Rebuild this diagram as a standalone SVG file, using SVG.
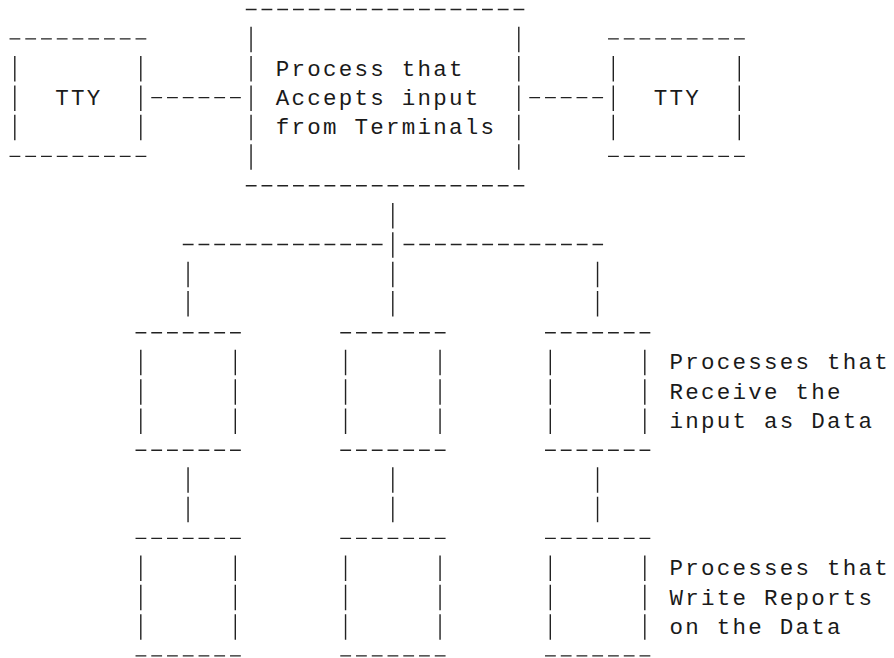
<svg xmlns="http://www.w3.org/2000/svg" width="894" height="658" viewBox="0 0 894 658">
  <style>
    .ln { stroke: #222; stroke-width: 1.4; fill: none; }
    .h { stroke-dasharray: 10.8 4.95; }
    .v { stroke-dasharray: 25.5 3.88; }
    .t { font-family: "Liberation Mono", "DejaVu Sans Mono", monospace; font-size: 22.5px; letter-spacing: 2.25px; fill: #1a1a1a; }
  </style>
  <rect width="894" height="658" fill="#fff"/>

  <!-- Terminal on the left -->
  <g id="tty-left">
    <line class="ln h" x1="9.525" y1="38.88" x2="146.325" y2="38.88"/>
    <line class="ln h" x1="9.525" y1="156.4" x2="146.325" y2="156.4"/>
    <line class="ln v" x1="14.8" y1="56.01" x2="14.8" y2="140.27"/>
    <line class="ln v" x1="140.8" y1="56.01" x2="140.8" y2="140.27"/>
    <text class="t" x="55.3" y="105">TTY</text>
  </g>

  <!-- Input process -->
  <g id="proc-input">
    <line class="ln h" x1="245.775" y1="9.5" x2="524.325" y2="9.5"/>
    <line class="ln h" x1="245.775" y1="185.78" x2="524.325" y2="185.78"/>
    <line class="ln v" x1="251.05" y1="26.63" x2="251.05" y2="169.65"/>
    <line class="ln v" x1="518.8" y1="26.63" x2="518.8" y2="169.65"/>
    <text class="t" x="275.8" y="75.6">Process that</text>
    <text class="t" x="275.8" y="105">Accepts input</text>
    <text class="t" x="275.8" y="134.4">from Terminals</text>
  </g>

  <!-- Terminal on the right -->
  <g id="tty-right">
    <line class="ln h" x1="608.025" y1="38.88" x2="744.825" y2="38.88"/>
    <line class="ln h" x1="608.025" y1="156.4" x2="744.825" y2="156.4"/>
    <line class="ln v" x1="613.3" y1="56.01" x2="613.3" y2="140.27"/>
    <line class="ln v" x1="739.3" y1="56.01" x2="739.3" y2="140.27"/>
    <text class="t" x="653.8" y="105">TTY</text>
  </g>

  <!-- Receiving processes -->
  <g id="recv-1">
    <line class="ln h" x1="135.525" y1="332.68" x2="240.825" y2="332.68"/>
    <line class="ln h" x1="135.525" y1="450.2" x2="240.825" y2="450.2"/>
    <line class="ln v" x1="140.8" y1="349.81" x2="140.8" y2="434.07"/>
    <line class="ln v" x1="235.3" y1="349.81" x2="235.3" y2="434.07"/>
  </g>
  <g id="recv-2">
    <line class="ln h" x1="340.275" y1="332.68" x2="445.575" y2="332.68"/>
    <line class="ln h" x1="340.275" y1="450.2" x2="445.575" y2="450.2"/>
    <line class="ln v" x1="345.55" y1="349.81" x2="345.55" y2="434.07"/>
    <line class="ln v" x1="440.05" y1="349.81" x2="440.05" y2="434.07"/>
  </g>
  <g id="recv-3">
    <line class="ln h" x1="545.025" y1="332.68" x2="650.325" y2="332.68"/>
    <line class="ln h" x1="545.025" y1="450.2" x2="650.325" y2="450.2"/>
    <line class="ln v" x1="550.3" y1="349.81" x2="550.3" y2="434.07"/>
    <line class="ln v" x1="644.8" y1="349.81" x2="644.8" y2="434.07"/>
  </g>
  <g id="recv-label">
    <text class="t" x="669.55" y="369.4">Processes that</text>
    <text class="t" x="669.55" y="398.8">Receive the</text>
    <text class="t" x="669.55" y="428.2">input as Data</text>
  </g>

  <!-- Report-writing processes -->
  <g id="report-1">
    <line class="ln h" x1="135.525" y1="538.34" x2="240.825" y2="538.34"/>
    <line class="ln h" x1="135.525" y1="655.86" x2="240.825" y2="655.86"/>
    <line class="ln v" x1="140.8" y1="555.47" x2="140.8" y2="639.73"/>
    <line class="ln v" x1="235.3" y1="555.47" x2="235.3" y2="639.73"/>
  </g>
  <g id="report-2">
    <line class="ln h" x1="340.275" y1="538.34" x2="445.575" y2="538.34"/>
    <line class="ln h" x1="340.275" y1="655.86" x2="445.575" y2="655.86"/>
    <line class="ln v" x1="345.55" y1="555.47" x2="345.55" y2="639.73"/>
    <line class="ln v" x1="440.05" y1="555.47" x2="440.05" y2="639.73"/>
  </g>
  <g id="report-3">
    <line class="ln h" x1="545.025" y1="538.34" x2="650.325" y2="538.34"/>
    <line class="ln h" x1="545.025" y1="655.86" x2="650.325" y2="655.86"/>
    <line class="ln v" x1="550.3" y1="555.47" x2="550.3" y2="639.73"/>
    <line class="ln v" x1="644.8" y1="555.47" x2="644.8" y2="639.73"/>
  </g>
  <g id="report-label">
    <text class="t" x="669.55" y="575.1">Processes that</text>
    <text class="t" x="669.55" y="604.5">Write Reports</text>
    <text class="t" x="669.55" y="633.9">on the Data</text>
  </g>

  <!-- Connectors -->
  <g id="connectors">
    <line class="ln h" x1="151.275" y1="97.64" x2="240.825" y2="97.64"/>
    <line class="ln h" x1="529.275" y1="97.64" x2="603.075" y2="97.64"/>
    <line class="ln v" x1="392.8" y1="202.91" x2="392.8" y2="316.55"/>
    <line class="ln h" x1="182.775" y1="244.54" x2="382.825" y2="244.54"/>
    <line class="ln h" x1="403.525" y1="244.54" x2="603.075" y2="244.54"/>
    <line class="ln v" x1="188.05" y1="261.67" x2="188.05" y2="316.55"/>
    <line class="ln v" x1="597.55" y1="261.67" x2="597.55" y2="316.55"/>
    <line class="ln v" x1="188.05" y1="467.33" x2="188.05" y2="522.21"/>
    <line class="ln v" x1="392.8" y1="467.33" x2="392.8" y2="522.21"/>
    <line class="ln v" x1="597.55" y1="467.33" x2="597.55" y2="522.21"/>
  </g>
</svg>
